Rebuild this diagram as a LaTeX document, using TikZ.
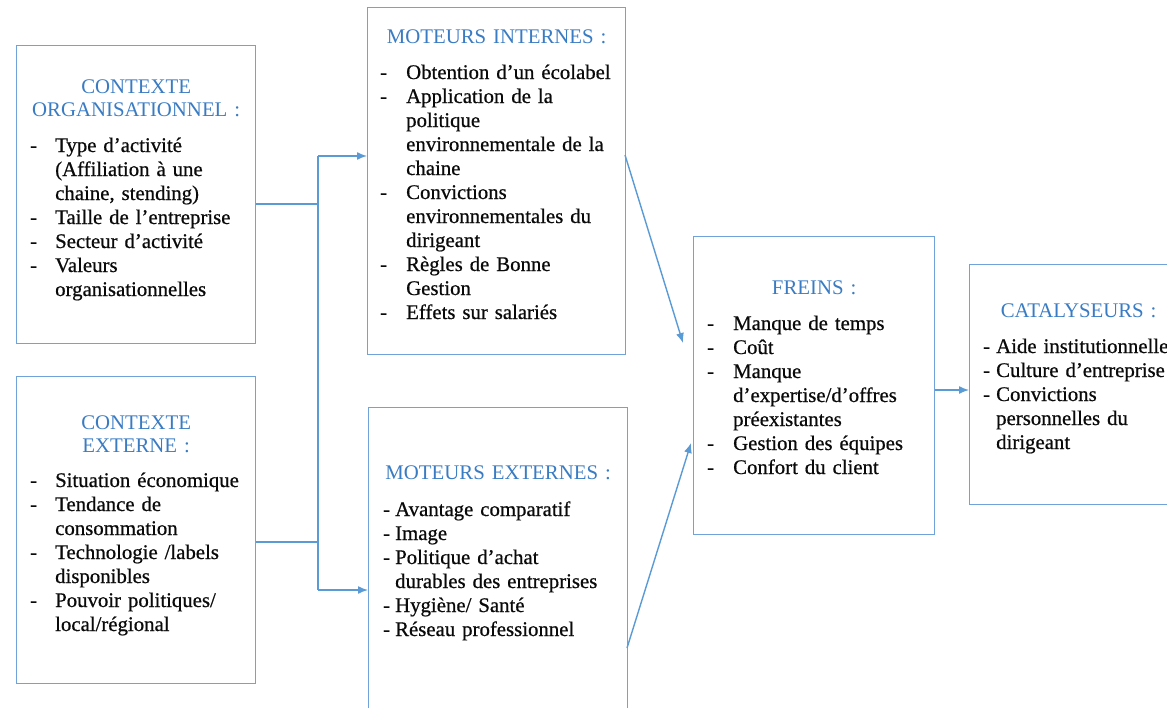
\documentclass[tikz,border=0pt]{standalone}
\usepackage{fontspec}
\setmainfont{Liberation Serif}
\newfontfamily\bodyfont{Liberation Serif}[FakeBold=0.6]
\usetikzlibrary{arrows.meta}
\definecolor{boxblue}{HTML}{6FA3DA}
\definecolor{lineblue}{HTML}{5B9BD5}
\definecolor{headblue}{HTML}{3A7CC3}
\definecolor{txt}{HTML}{0A0A0A}
\newlength\dashind
\newcommand\lfirst[1]{\hangindent=\dashind\hangafter=1\makebox[\dashind][l]{-}#1}
\newcommand\li[1]{\par\noindent\hangindent=\dashind\hangafter=1\makebox[\dashind][l]{-}#1}
\begin{document}
\begin{tikzpicture}[x=1pt,y=-1pt,
  box/.style={draw=boxblue, line width=1.3pt, inner sep=0pt, anchor=north west},
  conn/.style={draw=lineblue, line width=1.4pt},
  arr/.style={conn, -{Latex[length=10pt,width=8pt]}},
  head/.style={anchor=base, inner sep=0pt, text=headblue, text width=236pt, align=center, font=\fontsize{20.8}{23.5}\selectfont},
  lst/.style={anchor=base west, inner sep=0pt, text=txt, text width=300pt, align=left, font=\bodyfont\fontsize{20.8}{24}\selectfont}]
\clip (0,0) rectangle (1167,707);
\fill[white] (0,0) rectangle (1167,707);
% boxes
\node[box, minimum width=239pt, minimum height=298pt] (co) at (16,45) {};
\node[box, minimum width=239pt, minimum height=307pt] (ce) at (16,376) {};
\node[box, minimum width=258pt, minimum height=347pt] (mi) at (367,7) {};
\node[box, minimum width=259pt, minimum height=330pt] (me) at (368,407) {};
\node[box, minimum width=241pt, minimum height=298pt] (fr) at (693,236) {};
\node[box, minimum width=218pt, minimum height=240pt] (ca) at (969,264) {};
% headings
\coordinate (hco) at (0,93);
\coordinate (hce) at (0,429);
\coordinate (hmi) at (0,43);
\coordinate (hme) at (0,479);
\coordinate (hfr) at (0,294);
\coordinate (hca) at (0,317);
\node[head] (tco) at (co.north |- hco) {CONTEXTE\\ORGANISATIONNEL :};
\node[head] (tce) at (ce.north |- hce) {CONTEXTE\\EXTERNE :};
\node[head] (tmi) at (mi.north |- hmi) {MOTEURS INTERNES :};
\node[head] (tme) at (me.north |- hme) {MOTEURS EXTERNES :};
\node[head] (tfr) at (fr.north |- hfr) {FREINS :};
\node[head] (tca) at (ca.north |- hca) {CATALYSEURS :};
% lists
\node[lst] (lco) at (30,152) {\setlength\dashind{25pt}%
\lfirst{Type d’activité\newline(Affiliation à une\newline chaine, stending)}%
\li{Taille de l’entreprise}%
\li{Secteur d’activité}%
\li{Valeurs\newline organisationnelles}\par};
\node[lst] (lce) at (30,487) {\setlength\dashind{25pt}%
\lfirst{Situation économique}%
\li{Tendance de\newline consommation}%
\li{Technologie /labels\newline disponibles}%
\li{Pouvoir politiques/\newline local/régional}\par};
\node[lst] (lmi) at (380,79) {\setlength\dashind{26pt}%
\lfirst{Obtention d’un écolabel}%
\li{Application de la\newline politique\newline environnementale de la\newline chaine}%
\li{Convictions\newline environnementales du\newline dirigeant}%
\li{Règles de Bonne\newline Gestion}%
\li{Effets sur salariés}\par};
\node[lst] (lme) at (383,516) {\setlength\dashind{12pt}%
\lfirst{Avantage comparatif}%
\li{Image}%
\li{Politique d’achat\newline durables des entreprises}%
\li{Hygiène/ Santé}%
\li{Réseau professionnel}\par};
\node[lst] (lfr) at (707,330) {\setlength\dashind{26pt}%
\lfirst{Manque de temps}%
\li{Coût}%
\li{Manque\newline d’expertise/d’offres\newline préexistantes}%
\li{Gestion des équipes}%
\li{Confort du client}\par};
\node[lst] (lca) at (983,353) {\setlength\dashind{13pt}%
\lfirst{Aide institutionnelle}%
\li{Culture d’entreprise}%
\li{Convictions\newline personnelles du\newline dirigeant}\par};
% connectors
\coordinate (j1) at (318,204);
\coordinate (j2) at (318,542);
\coordinate (vt) at (318,156);
\coordinate (vb) at (318,590);
\draw[conn] (co.east |- j1) -- (j1);
\draw[conn] (ce.east |- j2) -- (j2);
\draw[conn] (vt) -- (vb);
\draw[arr] (vt) -- (mi.west |- vt);
\draw[arr] (vb) -- (me.west |- vb);
\coordinate (a1s) at (625,155);
\coordinate (a1e) at (683,343);
\coordinate (a2s) at (627,648);
\coordinate (a2e) at (691,443);
\draw[arr] (a1s) -- (a1e);
\draw[arr] (a2s) -- (a2e);
\coordinate (fc) at (0,390);
\draw[arr] (fr.east |- fc) -- (ca.west |- fc);
\end{tikzpicture}
\end{document}
